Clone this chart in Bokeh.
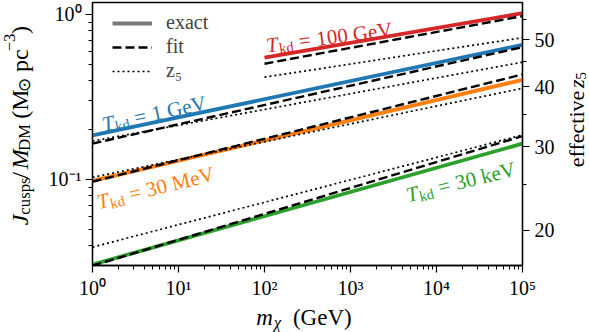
import math
from bokeh.plotting import figure
from bokeh.layouts import row, column
from bokeh.models import Range1d, LogScale, LogAxis, FixedTicker, Label, Legend, LegendItem
from bokeh.embed import file_html
from bokeh.resources import INLINE

# ---------------- data ----------------
m_full = [1.0, 1.0e5]          # GeV
m_100GeV = [1.0e2, 1.0e5]      # GeV

exact_30keV = [0.0305, 0.165]
exact_30MeV = [0.098, 0.402]
exact_1GeV = [0.185, 0.655]
exact_100GeV = [0.547, 1.018]

fit_30keV = [0.0300, 0.183]
fit_30MeV = [0.097, 0.433]
fit_1GeV = [0.165, 0.634]
fit_100GeV = [0.503, 0.977]

z5_30keV = [0.0389, 0.186]
z5_30MeV = [0.103, 0.357]
z5_1GeV = [0.171, 0.514]
z5_100GeV = [0.417, 0.723]

x_tick_values = [1e0, 1e1, 1e2, 1e3, 1e4, 1e5]
x_tick_labels = ["10⁰", "10¹", "10²", "10³", "10⁴", "10⁵"]
y_tick_values = [0.1, 1.0]
y_tick_labels = ["10⁻¹", "10⁰"]
z_tick_values = [20, 30, 40, 50]
z_minor_values = [25, 35, 45, 55]
z_tick_labels = ["20", "30", "40", "50"]
J_per_1pz_cubed = 5.30e-6   # J = const * (1+z5)^3

Y_MIN, Y_MAX = 0.0301, 1.182
X_MIN, X_MAX = 1.0, 1.0e5

BLUE, ORANGE, GREEN, RED = "#1f77b4", "#ff7f0e", "#2ca02c", "#d62728"
FONT = "Liberation Serif"

# ---------------- layout geometry ----------------
LEFT_W, RIGHT_W = 40, 32
BL, BR, BT, BB = 52, 34, 2, 37
FW, FH = 431, 263
MAIN_W = BL + FW + BR
MAIN_H = BT + FH + BB
BOTTOM_H = 332 - MAIN_H

p = figure(width=MAIN_W, height=MAIN_H, x_axis_type="log", y_axis_type="log",
           x_range=Range1d(X_MIN, X_MAX), y_range=Range1d(Y_MIN, Y_MAX),
           output_backend="svg", toolbar_location=None,
           min_border_left=BL, min_border_right=BR, min_border_top=BT, min_border_bottom=BB)
p.grid.visible = False
p.outline_line_color = "black"
p.outline_line_width = 1.3
p.background_fill_color = "white"
p.border_fill_color = "white"

# secondary axis in (1+z5)
p.extra_y_ranges = {"z": Range1d((Y_MIN / J_per_1pz_cubed) ** (1 / 3), (Y_MAX / J_per_1pz_cubed) ** (1 / 3))}
p.extra_y_scales = {"z": LogScale()}

x_minor = [k * d for d in x_tick_values[:-1] for k in range(2, 10)]
y_minor = [k * 0.01 for k in range(3, 10)] + [k * 0.1 for k in range(2, 10)]

def style_axis(ax):
    ax.axis_line_width = 1.3
    ax.major_tick_line_width = 1.2
    ax.minor_tick_line_width = 1.0
    ax.major_tick_in = 0
    ax.major_tick_out = 7
    ax.minor_tick_in = 0
    ax.minor_tick_out = 4
    ax.major_label_text_font = FONT
    ax.major_label_text_font_size = "20px"
    ax.major_label_text_color = "black"

xa = p.xaxis[0]
xa.ticker = FixedTicker(ticks=x_tick_values, minor_ticks=x_minor)
xa.major_label_overrides = {v: s for v, s in zip(x_tick_values, x_tick_labels)}
style_axis(xa)
xa.major_label_standoff = 4

ya = p.yaxis[0]
ya.ticker = FixedTicker(ticks=y_tick_values, minor_ticks=y_minor)
ya.major_label_overrides = {v: s for v, s in zip(y_tick_values, y_tick_labels)}
style_axis(ya)
ya.major_label_standoff = 4

za = LogAxis(y_range_name="z",
             ticker=FixedTicker(ticks=[z + 1 for z in z_tick_values], minor_ticks=[z + 1 for z in z_minor_values]),
             major_label_overrides={z + 1: s for z, s in zip(z_tick_values, z_tick_labels)})
style_axis(za)
za.major_label_standoff = 5
p.add_layout(za, "right")

# ---------------- curves ----------------
exact_kw = dict(line_width=3.8, line_cap="butt")
fit_kw = dict(line_color="black", line_width=2.4, line_dash="9 4")
z5_kw = dict(line_color="black", line_width=1.7, line_dash="2 3")

for xs, ys, c in [(m_full, exact_1GeV, BLUE), (m_full, exact_30MeV, ORANGE),
                  (m_full, exact_30keV, GREEN), (m_100GeV, exact_100GeV, RED)]:
    p.line(xs, ys, line_color=c, **exact_kw)
for xs, ys in [(m_full, fit_1GeV), (m_full, fit_30MeV), (m_full, fit_30keV), (m_100GeV, fit_100GeV)]:
    p.line(xs, ys, **fit_kw)
for xs, ys in [(m_full, z5_1GeV), (m_full, z5_30MeV), (m_full, z5_30keV), (m_100GeV, z5_100GeV)]:
    p.line(xs, ys, **z5_kw)

# legend with proxy renderers lying outside the visible range
proxy_x = [1e-3, 2e-3]
proxy_y = [1e-3, 2e-3]
r_exact = p.line(proxy_x, proxy_y, line_color="#7a7a7a", line_width=3.8)
r_fit = p.line(proxy_x, proxy_y, **fit_kw)
r_z5 = p.line(proxy_x, proxy_y, **z5_kw)
LEG_ITEM_H, LEG_PAD = 22, 7
leg = Legend(items=[LegendItem(label="exact", renderers=[r_exact]),
                    LegendItem(label="fit", renderers=[r_fit]),
                    LegendItem(label="z₅", renderers=[r_z5])],
             location=(13, FH - 3 * LEG_ITEM_H - 2 * LEG_PAD - 7), margin=0, padding=LEG_PAD, spacing=1,
             glyph_width=40, glyph_height=LEG_ITEM_H, label_height=LEG_ITEM_H, label_standoff=14,
             label_text_font=FONT, label_text_font_size="20px",
             border_line_alpha=0, background_fill_alpha=0)
p.add_layout(leg)

# ---------------- rich text helpers ----------------
W_REG = {' ': 250, '(': 333, ')': 333, '/': 278, '=': 564, '−': 564, '-': 333,
         'a': 444, 'b': 500, 'c': 444, 'd': 500, 'e': 444, 'f': 333, 'g': 500, 'h': 500, 'i': 278,
         'j': 278, 'k': 500, 'l': 278, 'm': 778, 'n': 500, 'o': 500, 'p': 500, 'q': 500, 'r': 333,
         's': 389, 't': 278, 'u': 500, 'v': 500, 'w': 722, 'x': 500, 'y': 500, 'z': 444,
         'D': 722, 'G': 722, 'M': 889, 'T': 611, 'V': 722, '⊙': 800}
W_IT = {'T': 556, 'J': 444, 'M': 833, 'm': 722, 'z': 389, 'χ': 560}

def text_width(s, size, italic):
    tot = 0
    for ch in s:
        if italic and ch in W_IT:
            tot += W_IT[ch]
        else:
            tot += W_REG.get(ch, 500)
    return tot * size / 1000.0

def rich(fig, pieces, x0, y0, angle_deg, color="black", units="screen"):
    th = math.radians(angle_deg)
    c, s = math.cos(th), math.sin(th)
    cx = 0.0
    for txt, size, dy, italic, gap in pieces:
        cx += gap
        px = x0 + cx * c - dy * s
        py = y0 + cx * s + dy * c
        fig.add_layout(Label(x=px, y=py, x_units=units, y_units=units, text=txt,
                             angle=th, text_align="left", text_baseline="alphabetic",
                             text_font=FONT, text_font_size=f"{size:.1f}px",
                             text_font_style="italic" if italic else "normal",
                             text_color=color))
        cx += text_width(txt, size, italic)
    return cx

def total_width(pieces):
    return sum(text_width(t, sz, it) + g for t, sz, dy, it, g in pieces)

def to_screen(x, y):
    sx = (math.log10(x) - math.log10(X_MIN)) / (math.log10(X_MAX) - math.log10(X_MIN)) * FW
    sy = (math.log10(y) - math.log10(Y_MIN)) / (math.log10(Y_MAX) - math.log10(Y_MIN)) * FH
    return sx, sy

def tkd(value_text, S):
    sp = 0.28 * S
    return [("T", S, 0, True, 0), ("kd", 0.7 * S, -0.22 * S, False, 0.5),
            ("=", S, 0, False, sp), (value_text, S, 0, False, sp)]

# curve labels (anchor in data coords: left end of the baseline)
S = 21
for txt, xd, yd, ang, col in [("100 GeV", 104.0, 0.648, 7.5, RED),
                              ("1 GeV", 1.30, 0.215, 12, BLUE),
                              ("30 MeV", 1.14, 0.0726, 14, ORANGE),
                              ("30 keV", 4400.0, 0.080, 14, GREEN)]:
    sx, sy = to_screen(xd, yd)
    rich(p, tkd(txt, S), sx, sy, ang, col)

# ---------------- label panels ----------------
def blank(w, h):
    f = figure(width=w, height=h, x_range=Range1d(0, w), y_range=Range1d(0, h),
               output_backend="svg", toolbar_location=None,
               min_border=0, min_border_left=0, min_border_right=0, min_border_top=0, min_border_bottom=0)
    f.axis.visible = False
    f.grid.visible = False
    f.outline_line_color = None
    f.background_fill_color = "white"
    f.border_fill_color = "white"
    return f

# left axis label (rotated, reading upwards)
S3 = 24
sub3, sup3 = -0.2 * S3, 0.42 * S3
left_fig = blank(LEFT_W, MAIN_H)
ylab = [("J", S3, 0, True, 0), ("cusps", 0.7 * S3, sub3, False, 1.5), ("/", S3, 0, False, 4),
        ("M", S3, 0, True, 4), ("DM", 0.7 * S3, sub3, False, 1), ("(M", S3, 0, False, 10),
        ("⊙", 0.7 * S3, sub3, False, 1), ("pc", S3, 0, False, 10), ("−3", 0.7 * S3, sup3, False, 1),
        (")", S3, 0, False, 2)]
left_mid_y = MAIN_H - 142
rich(left_fig, ylab, 19, left_mid_y - total_width(ylab) / 2, 90, units="data")

# right axis label
S2 = 22
sub2 = -0.2 * S2
right_fig = blank(RIGHT_W, MAIN_H)
zlab = [("effective", S2, 0, False, 0), ("z", S2, 0, True, 14), ("5", 0.7 * S2, sub2, False, 1)]
right_mid_y = MAIN_H - 135
rich(right_fig, zlab, 19, right_mid_y - total_width(zlab) / 2, 90, units="data")

# bottom axis label
S4 = 23
bottom_fig = blank(LEFT_W + MAIN_W + RIGHT_W, BOTTOM_H)
xlab = [("m", S4, 0, True, 0), ("χ", 0.7 * S4, -0.2 * S4, True, 1), ("(GeV)", S4, 0, False, 10)]
rich(bottom_fig, xlab, 303.5 - total_width(xlab) / 2, 15, 0, units="data")

layout = column(row(left_fig, p, right_fig), bottom_fig)
open("out.html", "w").write(file_html(layout, INLINE))
